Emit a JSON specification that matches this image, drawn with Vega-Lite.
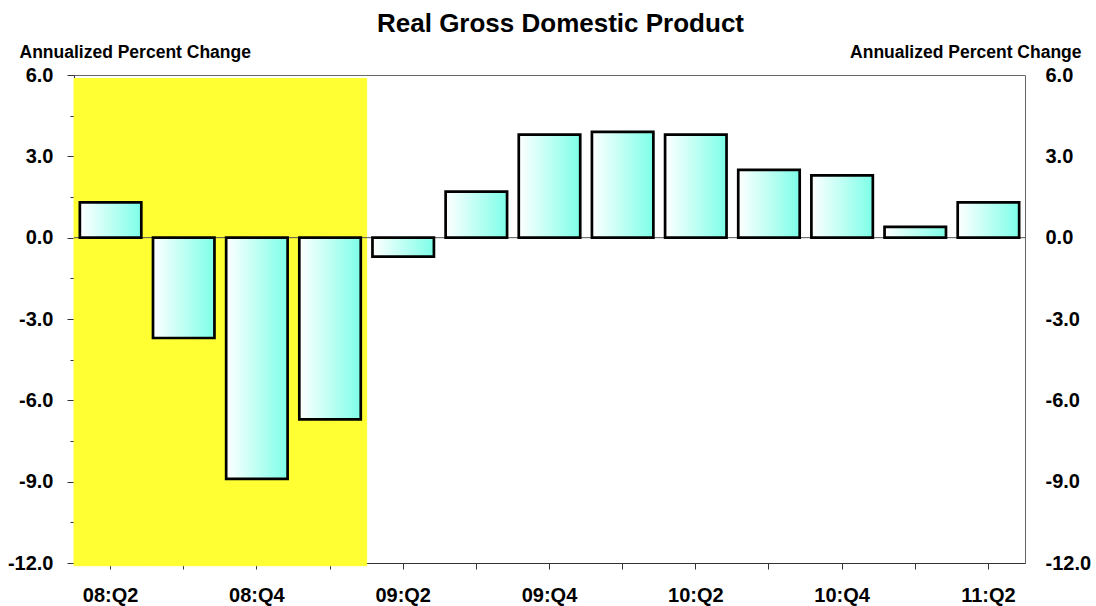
{
  "$schema": "https://vega.github.io/schema/vega-lite/v6.json",
  "width": 951,
  "height": 488,
  "autosize": "none",
  "padding": {"left": 74, "top": 75, "right": 71, "bottom": 43},
  "background": "white",
  "config": {
    "font": "Liberation Sans",
    "view": {"stroke": "#666666", "strokeWidth": 1},
    "axis": {"grid": false}
  },
  "title": {
    "text": "Real Gross Domestic Product",
    "font": "Liberation Sans",
    "fontSize": 26,
    "fontWeight": "bold",
    "color": "black",
    "anchor": "middle",
    "frame": "group",
    "dx": 11,
    "offset": 7
  },
  "resolve": {"axis": {"y": "independent"}},
  "datasets": {
    "gdp": [
      {"q": "08:Q2", "v": 1.3},
      {"q": "08:Q3", "v": -3.7},
      {"q": "08:Q4", "v": -8.9},
      {"q": "09:Q1", "v": -6.7},
      {"q": "09:Q2", "v": -0.7},
      {"q": "09:Q3", "v": 1.7},
      {"q": "09:Q4", "v": 3.8},
      {"q": "10:Q1", "v": 3.9},
      {"q": "10:Q2", "v": 3.8},
      {"q": "10:Q3", "v": 2.5},
      {"q": "10:Q4", "v": 2.3},
      {"q": "11:Q1", "v": 0.4},
      {"q": "11:Q2", "v": 1.3}
    ],
    "recession": [
      {"q": "08:Q2", "top": 5.87, "bottom": -12.1},
      {"q": "08:Q3", "top": 5.87, "bottom": -12.1},
      {"q": "08:Q4", "top": 5.87, "bottom": -12.1},
      {"q": "09:Q1", "top": 5.87, "bottom": -12.1}
    ]
  },
  "layer": [
    {
      "data": {"name": "recession"},
      "mark": {"type": "bar", "color": "#ffff33", "stroke": "#ffff33", "strokeWidth": 1, "width": {"band": 1}, "clip": false},
      "encoding": {
        "x": {"field": "q", "type": "nominal", "sort": null},
        "y": {"field": "top", "type": "quantitative", "scale": {"domain": [-12, 6], "nice": false, "zero": false}, "axis": null},
        "y2": {"field": "bottom"}
      }
    },
    {
      "data": {"values": [{"z": 0}]},
      "mark": {"type": "rule", "color": "#555555", "strokeWidth": 1},
      "encoding": {
        "y": {"field": "z", "type": "quantitative", "scale": {"domain": [-12, 6], "nice": false, "zero": false}, "axis": null}
      }
    },
    {
      "data": {"name": "gdp"},
      "mark": {
        "type": "bar",
        "width": {"band": 0.84},
        "stroke": "black",
        "strokeWidth": 2.7,
        "fill": {
          "gradient": "linear",
          "x1": 0, "y1": 0, "x2": 1, "y2": 0,
          "stops": [
            {"offset": 0, "color": "#ffffff"},
            {"offset": 1, "color": "#7dffe8"}
          ]
        }
      },
      "encoding": {
        "x": {
          "field": "q",
          "type": "nominal",
          "sort": null,
          "scale": {"paddingInner": 0, "paddingOuter": 0},
          "axis": {
            "title": null,
            "labelAngle": 0,
            "labelAlign": "center",
            "labelBaseline": "top",
            "labelOverlap": false,
            "labelFlush": false,
            "labelFont": "Liberation Sans",
            "labelFontSize": 20,
            "labelFontWeight": "bold",
            "labelColor": "black",
            "labelPadding": 16,
            "labelExpr": "indexof(['08:Q2','08:Q4','09:Q2','09:Q4','10:Q2','10:Q4','11:Q2'], datum.value) >= 0 ? datum.value : ''",
            "tickSize": 6,
            "tickColor": "#333333",
            "domainColor": "#333333",
            "grid": false
          }
        },
        "y": {
          "field": "v",
          "type": "quantitative",
          "scale": {"domain": [-12, 6], "nice": false, "zero": false},
          "axis": {
            "orient": "left",
            "values": [-12, -9, -6, -3, 0, 3, 6],
            "labelExpr": "replace(format(datum.value, '.1f'), '\u2212', '-')",
            "grid": false,
            "labelFont": "Liberation Sans",
            "labelFontSize": 20,
            "labelFontWeight": "bold",
            "labelColor": "black",
            "labelPadding": 14,
            "tickSize": 7,
            "tickColor": "#333333",
            "domainColor": "#333333",
            "title": "Annualized Percent Change",
            "titleAngle": 0,
            "titleFont": "Liberation Sans",
            "titleFontSize": 17.5,
            "titleFontWeight": "bold",
            "titleColor": "black",
            "titleAlign": "left",
            "titleBaseline": "alphabetic",
            "titleX": -55,
            "titleY": -17.5
          }
        }
      }
    },
    {
      "data": {"values": [{"m": -10.5}, {"m": -7.5}, {"m": -4.5}, {"m": -1.5}, {"m": 1.5}, {"m": 4.5}]},
      "mark": {"type": "point", "opacity": 0},
      "encoding": {
        "y": {
          "field": "m",
          "type": "quantitative",
          "scale": {"domain": [-12, 6], "nice": false, "zero": false},
          "axis": {
            "orient": "left",
            "values": [-10.5, -7.5, -4.5, -1.5, 1.5, 4.5],
            "labels": false,
            "domain": false,
            "grid": false,
            "tickSize": 4,
            "tickColor": "#333333",
            "title": null
          }
        }
      }
    },
    {
      "data": {"values": [{"r": 0}]},
      "mark": {"type": "point", "opacity": 0},
      "encoding": {
        "y": {
          "field": "r",
          "type": "quantitative",
          "scale": {"domain": [-12, 6], "nice": false, "zero": false},
          "axis": {
            "orient": "right",
            "values": [-12, -9, -6, -3, 0, 3, 6],
            "labelExpr": "replace(format(datum.value, '.1f'), '\u2212', '-')",
            "grid": false,
            "domain": false,
            "ticks": false,
            "labelFont": "Liberation Sans",
            "labelFontSize": 20,
            "labelFontWeight": "bold",
            "labelColor": "black",
            "labelPadding": 20,
            "title": "Annualized Percent Change",
            "titleAngle": 0,
            "titleFont": "Liberation Sans",
            "titleFontSize": 17.5,
            "titleFontWeight": "bold",
            "titleColor": "black",
            "titleAlign": "right",
            "titleBaseline": "alphabetic",
            "titleX": 56,
            "titleY": -17.5
          }
        }
      }
    }
  ]
}
